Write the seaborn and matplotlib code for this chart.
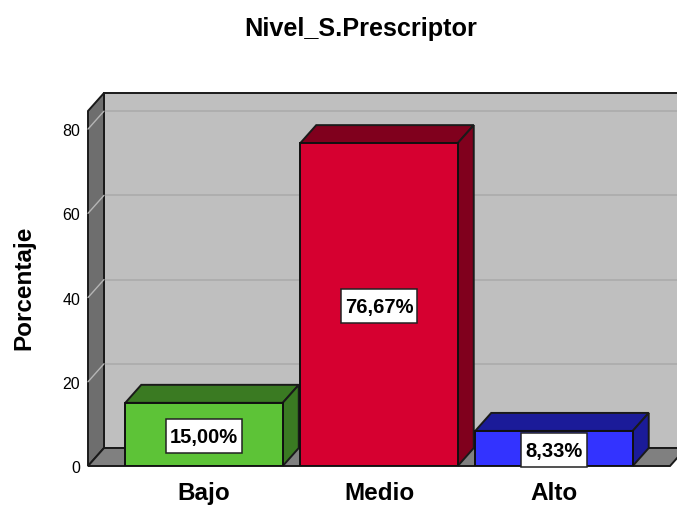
import matplotlib
matplotlib.use("Agg")
import matplotlib.pyplot as plt
from matplotlib.patches import Polygon, Rectangle
import pandas as pd
import seaborn as sns

categories = ["Bajo", "Medio", "Alto"]
values = [15.00, 76.67, 8.33]
labels = ["15,00%", "76,67%", "8,33%"]
y_ticks = [0, 20, 40, 60, 80]
front_colors = ["#5DC337", "#D60030", "#3333FF"]
dark_colors = ["#3A7A22", "#80001D", "#1B1B99"]

W, H = 677, 506
sns.set_theme(style="white")
plt.rcParams["font.family"] = ["Liberation Sans", "DejaVu Sans"]
fig = plt.figure(figsize=(W / 100, H / 100), dpi=100)
L, R, T, B = 88, 670, 112, 467
ax = fig.add_axes([L / W, 1 - B / H, (R - L) / W, (B - T) / H])
ax.patch.set_alpha(0)

df = pd.DataFrame({"cat": categories, "val": values})
sns.barplot(data=df, x="cat", y="val", hue="cat", palette=front_colors, legend=False,
            width=0.9, edgecolor="#101010", linewidth=1.4, saturation=1, ax=ax, zorder=5)
xmin, xmax = -0.663, 2.663
ymax = 84.3
ax.set_xlim(xmin, xmax)
ax.set_ylim(0, ymax)

px_x = 175
px_y = 355 / ymax
dx = 16 / px_x
dy = 18 / px_y
line = "#1a1a1a"

def poly(pts, fc, z, ec=line, lw=1.4):
    ax.add_patch(Polygon(pts, closed=True, facecolor=fc, edgecolor=ec, linewidth=lw,
                         zorder=z, clip_on=False, joinstyle="miter"))

# back wall, side wall, floor
poly([(xmin + dx, dy), (xmax + dx, dy), (xmax + dx, ymax + dy), (xmin + dx, ymax + dy)], "#BFBFBF", 1)
poly([(xmin, 0), (xmin + dx, dy), (xmin + dx, ymax + dy), (xmin, ymax)], "#6E6E6E", 2)
poly([(xmin, 0), (xmax, 0), (xmax + dx, dy), (xmin + dx, dy)], "#808080", 2)

for t in y_ticks[1:]:
    ax.plot([xmin + dx, xmax + dx], [t + dy, t + dy], color="#ABABAB", lw=1.2, zorder=1.5, clip_on=False)
    ax.plot([xmin, xmin + dx], [t, t + dy], color="#B5B5B5", lw=1.0, zorder=2.5, clip_on=False)

# bar depth faces and labels
renderer = fig.canvas.get_renderer()
for bar, dark, lab in zip(ax.patches, dark_colors, labels):
    x0, x1, h = bar.get_x(), bar.get_x() + bar.get_width(), bar.get_height()
    poly([(x0, h), (x1, h), (x1 + dx, h + dy), (x0 + dx, h + dy)], dark, 4)
    poly([(x1, 0), (x1, h), (x1 + dx, h + dy), (x1 + dx, dy)], dark, 4)
    cx, cy = (x0 + x1) / 2, h / 2
    txt = ax.text(cx, cy, lab, ha="center", va="center_baseline", fontsize=14.5,
                  fontweight="bold", color="black", zorder=7)
    bw = (txt.get_window_extent(renderer).width + 8) / px_x
    bh = 34 / px_y
    by = cy - bh / 2 - 1.5 / px_y
    ax.add_patch(Rectangle((cx - bw / 2, by), bw, bh, facecolor="white",
                           edgecolor="#222222", linewidth=1.1, zorder=6, clip_on=False))

for s in ax.spines.values():
    s.set_visible(False)
ax.set_yticks(y_ticks)
ax.set_yticklabels([str(t) for t in y_ticks], fontsize=11.5, color="black")
ax.tick_params(axis="y", length=0, pad=5.5)
ax.tick_params(axis="x", length=0, pad=10.5)
ax.set_xticks(range(3))
ax.set_xticklabels(categories, fontsize=17.5, fontweight="bold", color="black")
ax.set_xlabel("")
ax.set_ylabel("")
fig.text(24 / W, 1 - 288 / H, "Porcentaje", rotation=90, ha="center", va="center",
         fontsize=17.5, fontweight="bold", color="black")
fig.text(361 / W, 1 - 29 / H, "Nivel_S.Prescriptor", ha="center", va="center",
         fontsize=18.2, fontweight="bold", color="black")
fig.savefig("out.png", dpi=100)
